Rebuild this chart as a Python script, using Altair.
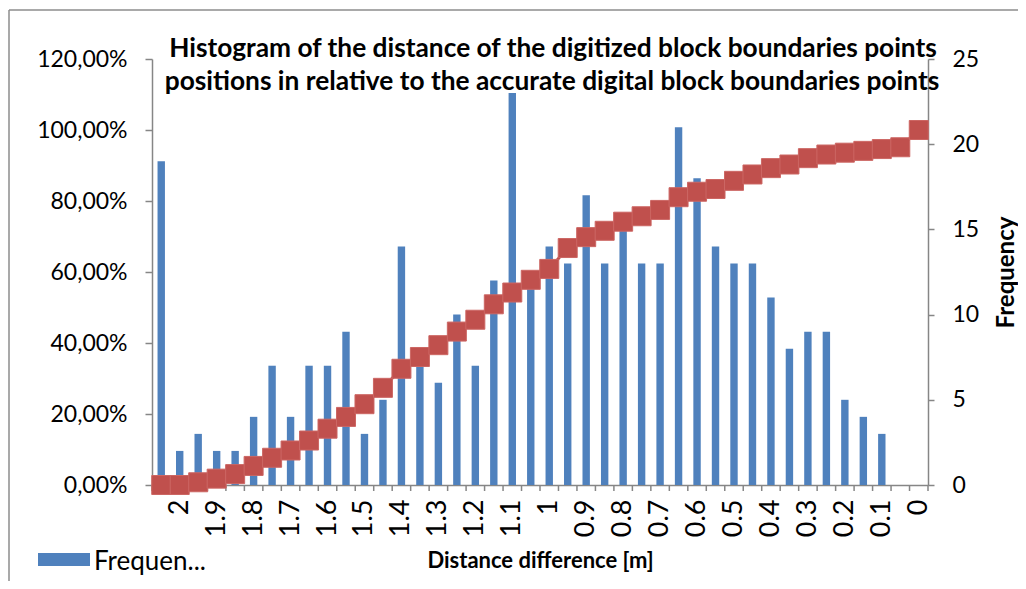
import altair as alt
import pandas as pd

categories = ["2.05", "2", "1.95", "1.9", "1.85", "1.8", "1.75", "1.7", "1.65", "1.6",
              "1.55", "1.5", "1.45", "1.4", "1.35", "1.3", "1.25", "1.2", "1.15", "1.1",
              "1.05", "1", "0.95", "0.9", "0.85", "0.8", "0.75", "0.7", "0.65", "0.6",
              "0.55", "0.5", "0.45", "0.4", "0.35", "0.3", "0.25", "0.2", "0.15", "0.1",
              "0.05", "0"]
frequency = [19, 2, 3, 2, 2, 4, 7, 4, 7, 7, 9, 3, 5, 14, 7, 6, 10, 7, 12, 23,
             12, 14, 13, 17, 13, 15, 13, 13, 21, 18, 14, 13, 13, 11, 8, 9, 9, 5, 4, 3,
             0, 0]
cumulative_pct = [0, 0, 0.77, 1.79, 3.07, 5.37, 7.67, 9.72, 12.53, 15.86,
                  19.18, 22.76, 27.37, 32.74, 36.06, 39.39, 43.22, 46.55, 50.90, 54.22,
                  57.80, 60.87, 66.75, 69.82, 71.61, 74.17, 75.70, 77.49, 81.07, 82.61,
                  83.38, 85.68, 87.47, 89.26, 90.28, 92.07, 93.09, 93.61, 94.12, 94.63,
                  95.14, 100.0]
pct_ticks = [0, 20, 40, 60, 80, 100, 120]
freq_ticks = [0, 5, 10, 15, 20, 25]
title_lines = ["Histogram of the distance of the digitized block boundaries points",
               "positions in relative to the accurate digital block boundaries points"]
legend_label = "Frequen..."

df = pd.DataFrame({
    "cat": categories,
    "freq": frequency,
    "cum": cumulative_pct,
})
one = pd.DataFrame({"k": [0]})

FONT = "Lato"
GRAY = "#868686"
BLUE = "#4F81BD"
RED = "#C0504D"

x_enc = alt.X(
    "cat:N", sort=categories,
    scale=alt.Scale(paddingInner=0, paddingOuter=0),
    axis=alt.Axis(
        title="Distance difference [m]", titleFont=FONT, titleFontWeight="bold",
        titleFontSize=22, titleColor="black", titlePadding=14,
        labelAngle=-90, labelFontSize=27, labelColor="black", labelFont=FONT,
        labelOverlap=False, labelPadding=8,
        labelExpr="length(datum.value) == 4 ? '' : datum.value",
        tickSize=6, tickOpacity=0, domainColor=GRAY,
        domainWidth=1.5, grid=False,
    ),
)

bars = alt.Chart(df).mark_bar(width=7.4, color=BLUE).encode(
    x=x_enc,
    y=alt.Y("freq:Q", scale=alt.Scale(domain=[0, 25], nice=False),
            axis=alt.Axis(orient="right", values=freq_ticks, title="Frequency",
                          titleFont=FONT, titleFontWeight="bold", titleFontSize=24,
                          titleAngle=270, titleColor="black", titlePadding=40,
                          labelFont=FONT, labelFontSize=23, labelColor="black",
                          tickSize=6, labelPadding=18, tickColor=GRAY, domainColor=GRAY,
                          domainWidth=1.5, tickWidth=1.5, grid=False)),
)

# tick marks on the category boundaries (left edge of every band, plus the right end)
band_ticks = alt.Chart(df).mark_rule(color=GRAY, strokeWidth=1.5).encode(
    x=alt.X("cat:N", sort=categories, bandPosition=0),
    y=alt.value(426), y2=alt.value(432))
end_tick = alt.Chart(one).mark_rule(color=GRAY, strokeWidth=1.5).encode(
    x=alt.value(776), y=alt.value(426), y2=alt.value(432))

line_y = alt.Y("cum:Q", scale=alt.Scale(domain=[0, 120], nice=False),
               axis=alt.Axis(orient="left", values=pct_ticks, title=None,
                             labelExpr="replace(format(datum.value, '.2f'), '.', ',') + '%'",
                             labelFont=FONT, labelFontSize=23, labelColor="black",
                             tickSize=7, labelPadding=18, tickColor=GRAY, domainColor=GRAY,
                             domainWidth=1.5, tickWidth=1.5, grid=False))

line = alt.Chart(df).mark_line(color=RED, strokeWidth=3).encode(x=x_enc, y=line_y)
pts = alt.Chart(df).mark_square(size=361, color=RED, opacity=1,
                                stroke="#CC6663", strokeWidth=1).encode(x=x_enc, y=line_y)
cum_layer = alt.layer(line, pts)

leg_sw = alt.Chart(one).mark_rect(color=BLUE).encode(
    x=alt.value(-114), x2=alt.value(-62), y=alt.value(494), y2=alt.value(507))
leg_tx = alt.Chart(one).mark_text(font=FONT, fontSize=26, align="left", baseline="middle",
                                  color="black").encode(
    x=alt.value(-58), y=alt.value(503), text=alt.value(legend_label))
t1 = alt.Chart(one).mark_text(font=FONT, fontWeight="bold", fontSize=26.3, align="center",
                              baseline="middle", color="black").encode(
    x=alt.value(401), y=alt.value(-10), text=alt.value(title_lines[0]))
t2 = alt.Chart(one).mark_text(font=FONT, fontWeight="bold", fontSize=26.3, align="center",
                              baseline="middle", color="black").encode(
    x=alt.value(400), y=alt.value(23), text=alt.value(title_lines[1]))
frame_v = alt.Chart(one).mark_rule(color="#8C8C8C", strokeWidth=1.5).encode(
    x=alt.value(-143), y=alt.value(-49), y2=alt.value(600))
frame_h = alt.Chart(one).mark_rule(color="#8C8C8C", strokeWidth=1.5).encode(
    x=alt.value(-143), x2=alt.value(1000), y=alt.value(-49))

chart = alt.layer(bars, band_ticks, end_tick, cum_layer, leg_sw, leg_tx, t1, t2,
                  frame_v, frame_h).resolve_scale(
    y="independent"
).properties(
    width=776, height=426,
    autosize=alt.AutoSizeParams(type="none"),
    padding={"left": 144, "top": 51, "right": 90, "bottom": 96},
    background="white",
).configure_view(stroke="transparent")

chart.save("out.html", embed_options={"renderer": "svg", "actions": False})
